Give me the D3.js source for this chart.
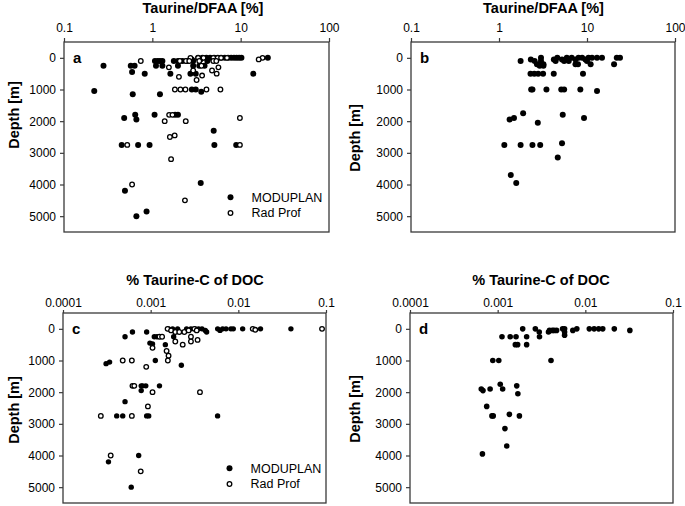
<!DOCTYPE html>
<html>
<head>
<meta charset="utf-8">
<script src="https://cdn.jsdelivr.net/npm/d3@7"></script>
<style>
  html, body { margin: 0; padding: 0; background: #fff; }
  svg { display: block; font-family: "Liberation Sans", Arial, sans-serif; }
</style>
</head>
<body>
<svg id="chart" width="685" height="506"></svg>
<script>
// ---------------- DATA ----------------
// [value, depth (m)]
const depthTicks = [0, 1000, 2000, 3000, 4000, 5000];
const dfaaTicks = [0.1, 1, 10, 100];
const dfaaTickLabels = ["0.1", "1", "10", "100"];
const docTicks = [0.0001, 0.001, 0.01, 0.1];
const docTickLabels = ["0.0001", "0.001", "0.01", "0.1"];
const seriesNames = ["MODUPLAN", "Rad Prof"];
const titleDFAA = "Taurine/DFAA [%]";
const titleDOC = "% Taurine-C of DOC";
const yTitle = "Depth [m]";

// Panel a – Taurine/DFAA, MODUPLAN (filled)
const aModuplan = [
  [3.3,0],[3.7,0],[4.1,0],[4.5,0],[5.0,0],[5.5,0],[6.0,0],[6.6,0],[7.2,0],[7.8,0],[8.4,0],[9.0,0],[9.6,0],[10.2,0],[20.3,0],
  [2.8,50],[3.5,50],[5.2,50],
  [1.07,100],[1.15,100],[1.22,100],[1.3,100],[1.75,100],[1.95,100],[2.2,100],[2.5,100],[2.9,100],[4.2,100],
  [0.28,250],[0.57,250],[0.63,250],[1.1,250],[1.3,250],[1.95,250],[2.9,250],[3.4,250],[3.9,250],
  [0.59,450],[2.9,450],
  [0.82,500],[1.6,500],[2.7,500],[3.1,500],[13.9,500],
  [2.8,1000],[3.1,1000],[0.22,1050],[3.58,1070],[0.6,1150],[1.22,1150],
  [0.64,1800],[1.06,1800],[1.81,1800],[1.95,1800],[0.48,1900],[0.66,1950],
  [4.95,2300],
  [0.45,2750],[0.69,2750],[0.93,2750],[5.04,2750],[8.9,2750],
  [3.53,3950],[0.49,4200],[0.86,4850],[0.66,5000]
];
// Panel a – Taurine/DFAA, Rad Prof (open)
const aRadProf = [
  [2.7,0],[3.3,0],[3.8,0],[4.9,0],[5.5,0],[6.0,0],[7.0,0],[17.7,0],[16.0,50],
  [0.74,100],[2.05,100],[2.4,100],[2.62,100],[3.4,100],[4.9,100],[5.3,100],
  [1.54,300],[3.6,250],[5.6,300],[2.9,400],[4.74,400],[5.35,500],[3.66,560],
  [2.0,600],[3.17,700],
  [1.8,1000],[2.08,1000],[2.37,1000],[4.1,1000],[5.9,1000],
  [1.55,1800],[1.69,1800],[9.8,1900],[1.38,2000],[2.39,2000],
  [1.79,2450],[1.58,2500],[0.52,2750],[9.8,2750],
  [1.63,3200],[0.59,4000],[2.34,4500]
];

// Panel b – Taurine/DFAA (filled)
const bValues = [
  [3.0,0],[4.6,0],[5.9,0],[6.7,0],[8.0,0],[8.8,0],[10.4,0],[11.4,0],[13.0,0],[14.8,0],[21.8,0],[23.7,0],
  [2.3,50],[4.2,50],[5.2,50],[7.4,50],[9.6,50],
  [1.76,100],[2.54,100],[3.0,100],[4.4,100],[5.5,100],[6.2,100],[10.0,100],
  [2.7,200],[3.2,200],[7.4,200],[7.9,200],[11.0,200],[20.3,200],
  [2.9,250],[3.2,250],
  [2.28,500],[2.52,500],[2.79,500],[3.17,500],[4.19,500],[9.0,500],
  [2.32,1000],[2.4,1000],[3.46,1000],[5.1,1000],[5.5,1000],[8.4,1000],[13.0,1050],
  [1.88,1750],[5.3,1800],[1.48,1900],[9.25,1900],[1.32,1950],[2.76,2050],
  [5.2,2700],[1.15,2750],[1.76,2750],[2.4,2750],[2.94,2750],
  [4.65,3150],[1.36,3700],[1.57,3950]
];

// Panel c – % Taurine-C of DOC, MODUPLAN (filled)
const cModuplan = [
  [0.0016,0],[0.00178,0],[0.00203,0],[0.00257,0],[0.00288,0],[0.00323,0],[0.00352,0],[0.00385,0],[0.0042,50],[0.00435,100],
  [0.00581,0],[0.00618,50],[0.00662,0],[0.00724,0],[0.00823,0],[0.00876,0],[0.0112,0],[0.0179,0],[0.0398,0],
  [0.00062,100],[0.0009,100],
  [0.00051,250],[0.0011,250],[0.00118,250],[0.00183,250],
  [0.00098,450],[0.00105,480],[0.00147,500],
  [0.00113,1000],[0.00034,1050],[0.00031,1100],[0.00224,1150],
  [0.00078,1800],[0.00081,1800],[0.00088,1800],[0.00126,1800],[0.00078,1950],
  [0.00051,2300],
  [0.00041,2750],[0.00048,2750],[0.0009,2750],[0.00095,2750],[0.0058,2750],
  [0.00073,4000],[0.00033,4200],[0.0006,5000]
];
// Panel c – % Taurine-C of DOC, Rad Prof (open)
const cRadProf = [
  [0.00156,0],[0.00171,50],[0.00191,100],[0.00212,100],[0.00242,100],[0.00271,50],[0.00315,0],[0.00335,50],
  [0.0146,0],[0.0156,30],[0.0901,0],
  [0.00126,250],[0.00135,250],[0.00288,250],[0.00343,350],[0.00191,400],[0.00288,400],[0.00232,500],
  [0.00105,600],[0.00152,700],[0.0016,850],
  [0.00048,1000],[0.00061,1000],[0.00157,1000],[0.00089,1200],
  [0.00062,1800],[0.00065,1800],[0.00105,2000],[0.00365,2000],
  [0.00093,2450],[0.00027,2750],[0.00061,2750],
  [0.00035,4000],[0.00077,4500]
];

// Panel d – % Taurine-C of DOC (filled)
const dValues = [
  [0.00193,0],[0.00269,0],[0.0055,0],[0.0058,0],[0.008,0],[0.0111,0],[0.0126,0],[0.0142,0],[0.0158,0],[0.0214,0],
  [0.0039,50],[0.0042,50],[0.0044,50],[0.0047,50],[0.0072,50],[0.0322,50],
  [0.00298,100],[0.0038,100],[0.0058,100],[0.0058,200],
  [0.00112,250],[0.00139,250],[0.00162,250],[0.00214,250],[0.003,250],
  [0.00159,500],[0.00169,500],[0.00214,500],
  [0.00088,1000],[0.00103,1000],[0.00406,1000],
  [0.00107,1750],[0.00165,1800],[0.00065,1900],[0.00082,1900],[0.00114,1900],[0.00068,1950],[0.0017,2050],
  [0.00075,2450],[0.00136,2700],[0.00086,2750],[0.00089,2750],[0.00177,2750],
  [0.00121,3150],[0.00127,3700],[0.00067,3950]
];

// ---------------- LAYOUT ----------------
const svg = d3.select("#chart");
const ink = "#000";
const frame = "#3a3a3a";

const panels = [
  { letter: "a", x0: 64, x1: 329, y0: 42, y1: 232, domain: [0.1, 100], ticks: dfaaTicks, labels: dfaaTickLabels,
    title: titleDFAA, titleX: 203, titleY: 13, tickSize: 4, tickPad: 6, yLabelX: 14, yLabelY: 115,
    filled: aModuplan, open: aRadProf, legend: true, r: 3 },
  { letter: "b", x0: 411, x1: 675, y0: 42, y1: 232, domain: [0.1, 100], ticks: dfaaTicks, labels: dfaaTickLabels,
    title: titleDFAA, titleX: 543.5, titleY: 13, tickSize: 4, tickPad: 6, yLabelX: 355, yLabelY: 138,
    filled: bValues, open: null, legend: false, r: 3 },
  { letter: "c", x0: 63, x1: 326, y0: 313, y1: 503, domain: [0.0001, 0.1], ticks: docTicks, labels: docTickLabels,
    title: titleDOC, titleX: 195, titleY: 285, tickSize: 3, tickPad: 3, yLabelX: 14, yLabelY: 410,
    filled: cModuplan, open: cRadProf, legend: true, r: 2.7 },
  { letter: "d", x0: 410, x1: 673, y0: 313, y1: 503, domain: [0.0001, 0.1], ticks: docTicks, labels: docTickLabels,
    title: titleDOC, titleX: 541, titleY: 285, tickSize: 3, tickPad: 3, yLabelX: 355, yLabelY: 409,
    filled: dValues, open: null, legend: false, r: 2.8 }
];

panels.forEach(p => {
  const x = d3.scaleLog().domain(p.domain).range([p.x0, p.x1]);
  const y = d3.scaleLinear().domain([-500, 5500]).range([p.y0, p.y1]);
  const g = svg.append("g");

  // top axis
  const xa = g.append("g").attr("transform", `translate(0,${p.y0})`)
    .call(d3.axisTop(x).tickValues(p.ticks).tickFormat((d, i) => p.labels[i])
      .tickSize(p.tickSize).tickPadding(p.tickPad));
  xa.select(".domain").remove();
  xa.selectAll("line").attr("stroke", frame).attr("stroke-width", 1.2);
  xa.selectAll("text").attr("font-size", 12).attr("fill", ink)
    .attr("font-family", "Liberation Sans, Arial, sans-serif");

  // left axis
  const ya = g.append("g").attr("transform", `translate(${p.x0},0)`)
    .call(d3.axisLeft(y).tickValues(depthTicks).tickFormat(d3.format("d"))
      .tickSize(4).tickPadding(4));
  ya.select(".domain").remove();
  ya.selectAll("line").attr("stroke", frame).attr("stroke-width", 1.2);
  ya.selectAll("text").attr("font-size", 12).attr("fill", ink)
    .attr("font-family", "Liberation Sans, Arial, sans-serif");

  // frame
  g.append("rect").attr("x", p.x0).attr("y", p.y0)
    .attr("width", p.x1 - p.x0).attr("height", p.y1 - p.y0)
    .attr("fill", "none").attr("stroke", frame).attr("stroke-width", 1.3);

  // title
  g.append("text").attr("x", p.titleX).attr("y", p.titleY)
    .attr("text-anchor", "middle").attr("font-weight", "bold").attr("font-size", 14.5)
    .attr("fill", ink).text(p.title);

  // y title
  g.append("text")
    .attr("transform", `translate(${p.yLabelX},${p.yLabelY}) rotate(-90)`)
    .attr("text-anchor", "middle").attr("dominant-baseline", "central")
    .attr("font-weight", "bold").attr("font-size", 14.5).attr("fill", ink).text(yTitle);

  // panel letter
  g.append("text").attr("x", p.x0 + 9).attr("y", p.y0 + 21)
    .attr("font-weight", "bold").attr("font-size", 15).attr("fill", ink).text(p.letter);

  // points
  g.append("g").selectAll("circle").data(p.filled).join("circle")
    .attr("cx", d => x(d[0])).attr("cy", d => y(d[1])).attr("r", p.r)
    .attr("fill", "#000");
  if (p.open) {
    g.append("g").selectAll("circle").data(p.open).join("circle")
      .attr("cx", d => x(d[0])).attr("cy", d => y(d[1])).attr("r", 2.3)
      .attr("fill", "#fff").attr("stroke", "#000").attr("stroke-width", 1.3);
  }

  // legend
  if (p.legend) {
    const lx = p.x0 + 166.5;
    const ly1 = y(4400), ly2 = y(4900);
    g.append("circle").attr("cx", lx).attr("cy", ly1).attr("r", 3).attr("fill", "#000");
    g.append("circle").attr("cx", lx).attr("cy", ly2).attr("r", 2.3)
      .attr("fill", "#fff").attr("stroke", "#000").attr("stroke-width", 1.3);
    g.append("text").attr("x", lx + 21).attr("y", ly1).attr("dy", "0.35em")
      .attr("font-size", 12.5).attr("fill", ink).text(seriesNames[0]);
    g.append("text").attr("x", lx + 21).attr("y", ly2).attr("dy", "0.35em")
      .attr("font-size", 12.5).attr("fill", ink).text(seriesNames[1]);
  }
});
</script>
</body>
</html>
